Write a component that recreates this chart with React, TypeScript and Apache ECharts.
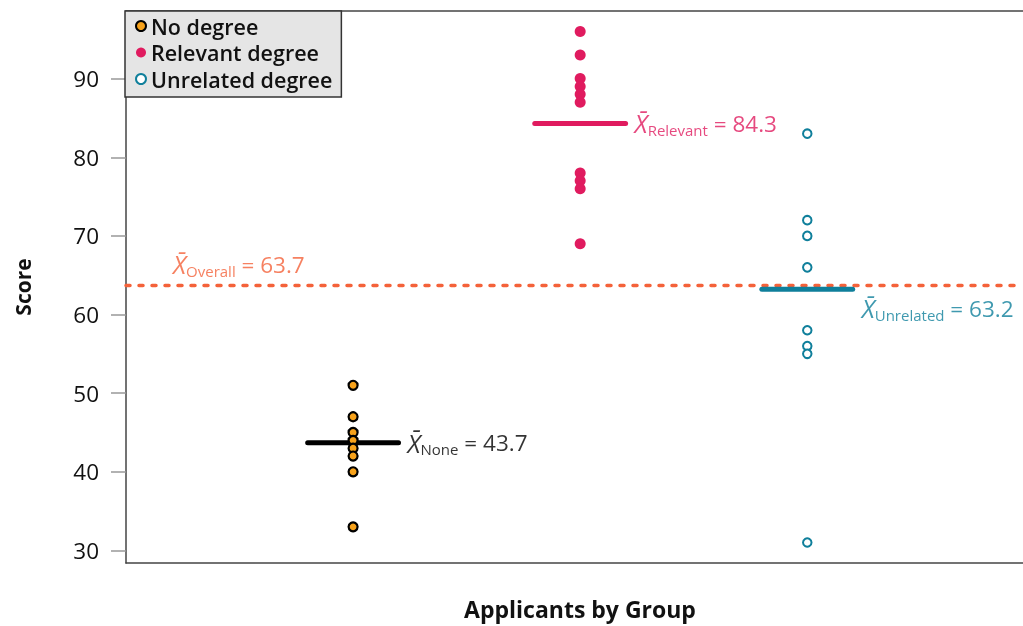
import React, { useEffect, useRef } from "react";
import * as echarts from "echarts";

const groupNames = ["No degree", "Relevant degree", "Unrelated degree"];
const groupShort = ["None", "Relevant", "Unrelated"];
const noDegreeScores = [51, 47, 45, 44, 43, 42, 40, 33];
const relevantScores = [96, 93, 90, 89, 88, 87, 78, 77, 76, 69];
const unrelatedScores = [83, 72, 70, 66, 58, 56, 55, 31];
const groupMeans = [43.7, 84.3, 63.2];
const overallMean = 63.7;
const yTicks = [30, 40, 50, 60, 70, 80, 90];

const ORANGE = "#f7a21b";
const PINK = "#e01b5f";
const TEAL = "#0f7f9b";
const OVERALL = "#f4623a";
const FONT = "Open Sans";
const X_MAX = 3.95;

export default function App() {
  const ref = useRef<HTMLDivElement>(null);
  useEffect(() => {
    document.body.style.margin = "0";
    document.body.style.overflow = "hidden";
    document.documentElement.style.overflow = "hidden";
    const chart = echarts.init(ref.current!, null, { renderer: "svg" });
    const halfW = 0.2;
    const meanColors = ["#000000", PINK, TEAL];
    const labelColors = ["#000000", PINK, TEAL];
    const labelOffsets = [[0, 0], [0, 0], [0, 19]];

    const richFor = (color: string) => ({
      x: { fontFamily: FONT, fontSize: 25, fontStyle: "italic", color },
      s: { fontFamily: FONT, fontSize: 15, color, padding: [13, 0, 0, 0] },
      v: { fontFamily: FONT, fontSize: 22.5, color },
    });

    const meanLineSeries = groupMeans.map((m, i) => ({
      type: "line",
      name: "mean" + i,
      data: [[i + 1 - halfW, m], [i + 1 + halfW, m]],
      symbol: "none",
      lineStyle: { color: meanColors[i], width: 5, cap: "round" },
      z: 3,
      silent: true,
    }));

    const meanLabelSeries = groupMeans.map((m, i) => ({
      type: "scatter",
      name: "meanLabel" + i,
      data: [[i + 1 + halfW, m]],
      symbolSize: 0,
      z: 5,
      silent: true,
      label: {
        show: true,
        position: "right",
        distance: 9,
        offset: labelOffsets[i],
        formatter: `{x|X\u0304}{s|${groupShort[i]}}{v| = ${m.toFixed(1)}}`,
        rich: richFor(labelColors[i]),
      },
    }));

    const borderLine = { show: true, lineStyle: { color: "#444", width: 1.5 } };

    const option = {
      animation: false,
      grid: { left: 126, top: 11, right: 0, bottom: 59, show: false },
      legend: {
        data: groupNames,
        orient: "vertical",
        left: 125,
        top: 11,
        backgroundColor: "#e5e5e5",
        borderColor: "#333",
        borderWidth: 1.5,
        borderRadius: 0,
        padding: [3, 9, 6, 10],
        itemGap: 2.5,
        itemWidth: 10,
        itemHeight: 10,
        textStyle: { fontFamily: FONT, fontSize: 21.5, fontWeight: 600, color: "#111", lineHeight: 24 },
      },
      xAxis: [
        {
          type: "value",
          min: 0,
          max: X_MAX,
          position: "bottom",
          axisLine: { ...borderLine, onZero: false },
          axisTick: { show: false },
          axisLabel: { show: false },
          splitLine: { show: false },
          name: "Applicants by Group",
          nameLocation: "middle",
          nameGap: 34,
          nameTextStyle: { fontFamily: FONT, fontSize: 23, fontWeight: "bold", color: "#111", padding: [0, 0, 0, 11], lineHeight: 24 },
        },
        {
          type: "value",
          min: 0,
          max: X_MAX,
          position: "top",
          axisLine: { ...borderLine, onZero: false },
          axisTick: { show: false },
          axisLabel: { show: false },
          splitLine: { show: false },
        },
      ],
      yAxis: {
        type: "value",
        min: 28.4,
        max: 98.6,
        axisLine: { ...borderLine, onZero: false },
        axisTick: { show: true, customValues: yTicks, length: 15, lineStyle: { color: "#999", width: 1.5 } },
        axisLabel: { customValues: yTicks, margin: 27, fontFamily: FONT, fontSize: 22.5, color: "#111" },
        splitLine: { show: false },
        name: "Score",
        nameLocation: "middle",
        nameGap: 93,
        nameTextStyle: { fontFamily: FONT, fontSize: 21, fontWeight: "bold", color: "#111" },
      },
      series: [
        {
          type: "line",
          name: "overall",
          data: [[0, overallMean], [X_MAX, overallMean]],
          symbol: "none",
          lineStyle: { color: OVERALL, width: 3.5, type: [4, 9], cap: "round" },
          z: 2,
          silent: true,
        },
        {
          type: "scatter",
          name: "overallLabel",
          data: [[0, overallMean]],
          symbolSize: 0,
          z: 5,
          silent: true,
          label: {
            show: true,
            position: "right",
            distance: 0,
            offset: [47, -21],
            formatter: `{x|X\u0304}{s|Overall}{v| = ${overallMean.toFixed(1)}}`,
            rich: richFor(OVERALL),
          },
        },
        ...meanLineSeries,
        {
          type: "scatter",
          name: groupNames[0],
          data: noDegreeScores.map((v) => [1, v]),
          symbol: "circle",
          symbolSize: 9,
          itemStyle: { color: ORANGE, borderColor: "#000", borderWidth: 2.2, opacity: 1 },
          z: 4,
        },
        {
          type: "scatter",
          name: groupNames[1],
          data: relevantScores.map((v) => [2, v]),
          symbol: "circle",
          symbolSize: 11,
          itemStyle: { color: PINK, opacity: 1 },
          z: 4,
        },
        {
          type: "scatter",
          name: groupNames[2],
          data: unrelatedScores.map((v) => [3, v]),
          symbol: "circle",
          symbolSize: 8.5,
          itemStyle: { color: "#ffffff", borderColor: TEAL, borderWidth: 2, opacity: 1 },
          z: 4,
        },
        ...meanLabelSeries,
      ],
    };
    chart.setOption(option as any);
    return () => chart.dispose();
  }, []);
  return <div ref={ref} style={{ position: "fixed", left: 0, top: 0, width: "1023px", height: "626px" }} />;
}
